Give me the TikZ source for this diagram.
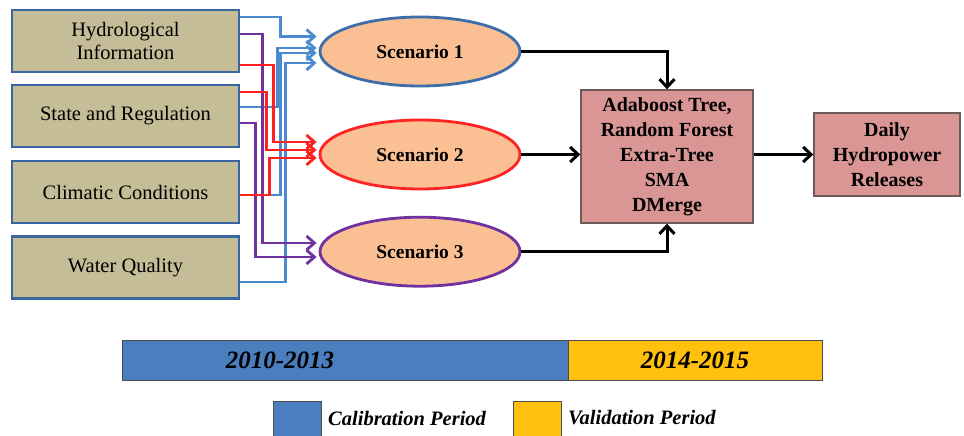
\documentclass[tikz,border=0pt]{standalone}
\usepackage{fontspec}
\setmainfont{Liberation Serif}
\usetikzlibrary{arrows.meta,calc,shapes.geometric}
\definecolor{boxfill}{HTML}{C4BD97}
\definecolor{boxdraw}{HTML}{3A66A0}
\definecolor{ellfill}{HTML}{FAC093}
\definecolor{sblue}{HTML}{3D6EA8}
\definecolor{sred}{HTML}{FF2424}
\definecolor{spurple}{HTML}{7030A0}
\definecolor{algfill}{HTML}{D99694}
\definecolor{algdraw}{HTML}{6F5A5A}
\definecolor{lblue}{HTML}{4A8AD0}
\definecolor{lred}{HTML}{FF2020}
\definecolor{lpurple}{HTML}{7032A0}
\definecolor{barblue}{HTML}{4A7EBE}
\definecolor{baryellow}{HTML}{FFC10E}
\begin{document}
\begin{tikzpicture}[x=1pt,y=-1pt,
  inbox/.style={draw=boxdraw,fill=boxfill,line width=2.8pt,minimum width=227pt,minimum height=62pt,inner sep=0pt,align=center,font=\fontsize{20.5}{23}\selectfont},
  scen/.style={ellipse,fill=ellfill,line width=2.8pt,minimum width=200pt,minimum height=69pt,inner sep=0pt,font=\bfseries\fontsize{19.5}{23}\selectfont},
  algbox/.style={draw=algdraw,fill=algfill,line width=1.4pt,inner sep=0pt,align=center,font=\bfseries\fontsize{20}{25}\selectfont},
  carrow/.style={line width=2.8pt,-{Straight Barb[length=8pt,width=14pt]}},
  karrow/.style={line width=3pt,black,-{Straight Barb[length=8pt,width=15pt]}},
  barbox/.style={draw=black!70,line width=1pt},
  bartext/.style={font=\bfseries\itshape\fontsize{25}{28}\selectfont},
  legtext/.style={font=\bfseries\itshape\fontsize{20.5}{24}\selectfont,anchor=west,inner sep=0pt}
]
\useasboundingbox[fill=white] (0,0) rectangle (964,436);

% input boxes
\node[inbox] (hyd) at (125.5,41) {Hydrological\\Information};
\node[inbox] (sr)  at (125.5,116) {State and Regulation};
\node[inbox] (cc)  at (125.5,192) {Climatic Conditions};
\node[inbox] (wq)  at (125.5,267.5) {Water Quality};

% scenarios
\node[scen,draw=sblue]   (s1) at (420,51.5)  {Scenario 1};
\node[scen,draw=sred]    (s2) at (420,154.5) {Scenario 2};
\node[scen,draw=spurple] (s3) at (420,251.7) {Scenario 3};

% model and output boxes
\node[algbox,minimum width=172pt,minimum height=133pt] (alg) at (667,156.5)
  {Adaboost Tree,\\Random Forest\\Extra-Tree\\SMA\\DMerge};
\node[algbox,minimum width=146pt,minimum height=83pt] (out) at (887,154.5)
  {Daily\\Hydropower\\Releases};

% blue connectors -> Scenario 1
\draw[carrow,lblue] ($(hyd.east)+(0,-24)$) -- ++(40,0) |- ($(s1.west)+(-2,-15)$);
\draw[carrow,lblue] ($(sr.east)+(0,-9)$) -- ++(37,0) |- ($(s1.west)+(-2,-3.5)$);
\draw[carrow,lblue] ($(cc.east)+(0,3)$) -- ++(40,0) |- ($(s1.west)+(-2,1.5)$);
\draw[carrow,lblue] ($(wq.east)+(0,14.5)$) -- ++(45,0) |- ($(s1.west)+(-2,11.5)$);

% purple connectors -> Scenario 3
\draw[carrow,lpurple] ($(hyd.east)+(0,-7)$) -- ++(22,0) |- ($(s3.west)+(-2,-8.7)$);
\draw[carrow,lpurple] ($(sr.east)+(0,7)$) -- ++(15,0) |- ($(s3.west)+(-2,5.3)$);

% red connectors -> Scenario 2
\draw[carrow,lred] ($(hyd.east)+(0,24)$) -- ++(33,0) |- ($(s2.west)+(-2,-12.5)$);
\draw[carrow,lred] ($(sr.east)+(0,-24)$) -- ++(26,0) |- ($(s2.west)+(-2,-4.5)$);
\draw[carrow,lred] ($(cc.east)+(0,3)$) -- ++(29,0) |- ($(s2.west)+(-2,3.5)$);

% black connectors
\draw[karrow] (s1.east) -| (alg.north);
\draw[karrow] (s2.east) -- (s2.east -| alg.west);
\draw[karrow] (s3.east) -| (alg.south);
\draw[karrow] (alg.east |- out.west) -- (out.west);

% period bar
\node[barbox,fill=barblue,minimum width=446pt,minimum height=40pt,inner sep=0pt] (cal) at (345,360) {};
\node[barbox,fill=baryellow,minimum width=254pt,minimum height=40pt,inner sep=0pt] (val) at (695,360) {};
\node[bartext] (caltext) at (280,360) {2010-2013};
\node[bartext] (valtext) at (695,360) {2014-2015};

% legend
\node[barbox,fill=barblue,minimum width=48pt,minimum height=36pt,inner sep=0pt] (legb) at (297,419) {};
\node[legtext] (legbt) at (328,418) {Calibration Period};
\node[barbox,fill=baryellow,minimum width=48pt,minimum height=36pt,inner sep=0pt] (legy) at (537,419) {};
\node[legtext] (legyt) at (568,418) {Validation Period};
\end{tikzpicture}
\end{document}
